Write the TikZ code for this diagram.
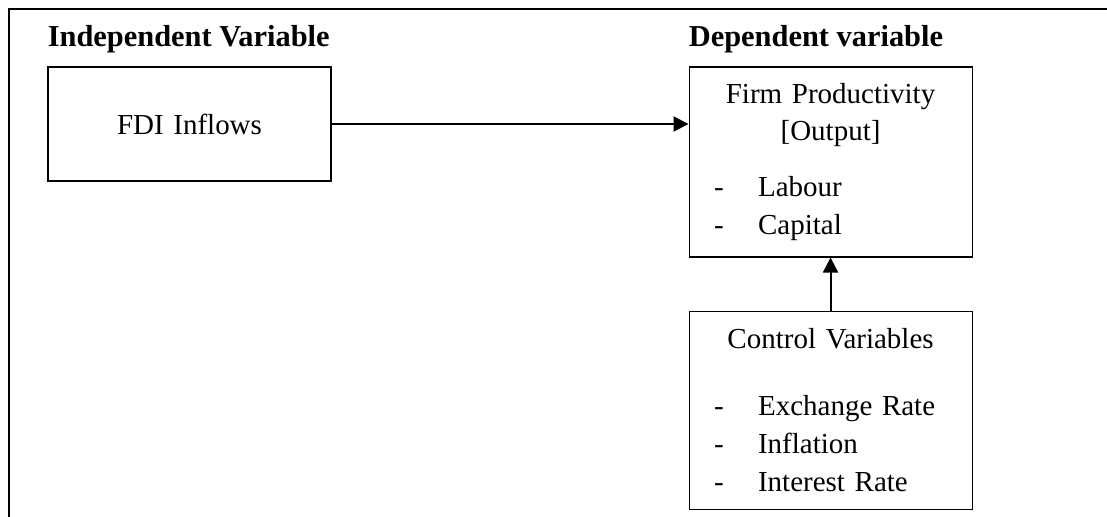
\documentclass[tikz,border=0pt]{standalone}
\usepackage{fontspec}
\setmainfont{Liberation Serif}
\usepackage{tikz}
\usetikzlibrary{positioning}
\usetikzlibrary{arrows.meta}

\newcommand{\ctrline}[1]{\makebox[\linewidth]{#1}}
\newcommand{\dashitem}[1]{\makebox[0.88cm][l]{-}#1}

\begin{document}
\begin{tikzpicture}[node distance=2.5cm,auto,
        varbox/.style={draw, line width=0.6pt, minimum width=5.66cm, inner xsep=0.5cm,
            text width=4.66cm, align=left, font=\fontsize{16.5}{21.6}\selectfont},
        heading/.style={inner sep=0pt, anchor=base west, font=\fontsize{17.3}{21.6}\selectfont\bfseries},
        link/.style={line width=1.1pt, -{Triangle[length=0.3cm,width=0.3cm]}}]
        \useasboundingbox (0,0) rectangle (22.14,-10.34);
        \draw[line width=1.1pt] (0.18,-10.34) -- (0.18,-0.18) -- (22.14,-0.18);

		\node[varbox, minimum height=2.28cm] at (3.79,-2.48) (fdi) {\ctrline{FDI Inflows}};
        \node[varbox, minimum height=3.8cm, right=7.14cm of fdi.north east, anchor=north west] (firm) {\ctrline{Firm Productivity}\\
            \ctrline{[Output]}\\[0.36cm]
            \dashitem{Labour}\\
            \dashitem{Capital}};
        \node[varbox, minimum height=3.96cm, below=1.06cm of firm] (ctrl) {\ctrline{Control Variables}\\[0.6cm]
            \dashitem{Exchange Rate}\\
            \dashitem{Inflation}\\
            \dashitem{Interest Rate}};

		\node[heading] at ([yshift=0.4cm]fdi.north west) (indept) {Independent Variable};
		\node[heading] at ([yshift=0.4cm]firm.north west) (dept) {Dependent variable};

		\draw[link] (fdi.east) -- (firm.west |- fdi.east);
		\draw[link] (ctrl.north) -- (firm.south);
	\end{tikzpicture}
\end{document}
